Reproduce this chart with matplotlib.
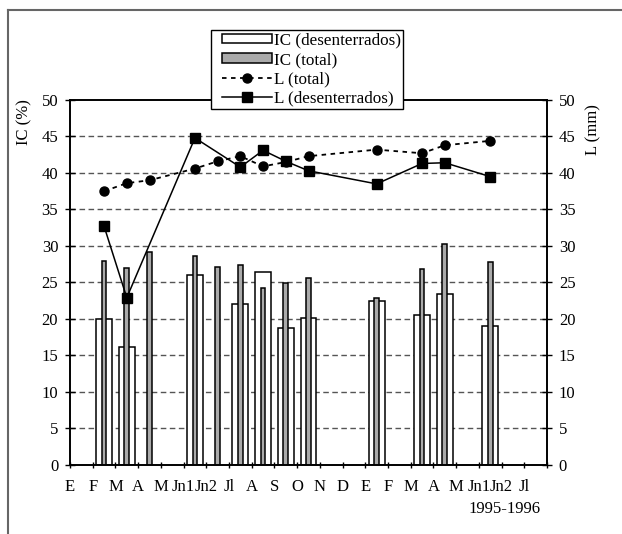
import numpy as np
import matplotlib
matplotlib.use("Agg")
import matplotlib.pyplot as plt
from matplotlib.patches import Patch
from matplotlib.lines import Line2D
from matplotlib.legend_handler import HandlerPatch, HandlerLine2D

plt.rcParams['font.family'] = ['Liberation Serif', 'DejaVu Serif']

# ---- data ----
month_labels = ['E', 'F', 'M', 'A', 'M', 'Jn1', 'Jn2', 'Jl', 'A', 'S', 'O', 'N', 'D',
                'E', 'F', 'M', 'A', 'M', 'Jn1', 'Jn2', 'Jl']
# sampling dates (in month-axis units)
sample_pos = [1.5, 2.5, 3.5, 5.5, 6.5, 7.5, 8.5, 9.5, 10.5, 13.5, 15.5, 16.5, 18.5]
ic_desenterrados = [20.0, 16.2, np.nan, 26.0, np.nan, 22.1, 26.4, 18.8, 20.1, 22.5, 20.6, 23.4, 19.0]
ic_total = [28.0, 27.0, 29.1, 28.6, 27.1, 27.4, 24.3, 24.9, 25.6, 22.8, 26.8, 30.2, 27.8]
l_total = [37.5, 38.6, 39.0, 40.6, 41.6, 42.3, 40.9, 41.5, 42.3, 43.2, 42.7, 43.8, 44.4]
l_desenterrados = [32.7, 22.9, np.nan, 44.8, np.nan, 40.8, 43.1, 41.6, 40.3, 38.5, 41.3, 41.4, 39.5]
year_label = '1995-1996'

FS = 12
W, H = 622, 534
fig = plt.figure(figsize=(W / 100, H / 100), dpi=100)
ax = fig.add_axes([70 / W, 1 - 464.8 / H, 477 / W, 364.8 / H])
ax2 = ax.twinx()

x = np.array(sample_pos)
ic_d = np.array(ic_desenterrados)
ic_t = np.array(ic_total)
lt = np.array(l_total)
ld = np.array(l_desenterrados)

# bars
mask = ~np.isnan(ic_d)
ax.bar(x[mask], ic_d[mask], width=0.70, color='white', edgecolor='black', linewidth=1.1, zorder=2)
ax.bar(x, ic_t, width=0.21, color='#aaaaaa', edgecolor='black', linewidth=1.1, zorder=3)

# lines
ax2.plot(x, lt, linestyle=(0, (2.5, 2.5)), color='black', lw=1.3, marker='o', ms=6.5, zorder=4)
m2 = ~np.isnan(ld)
ax2.plot(x[m2], ld[m2], linestyle='-', color='black', lw=1.1, marker='s', ms=6.5, zorder=5)

ax.set_xlim(0, 21)
ax.set_ylim(0, 50)
ax2.set_ylim(0, 50)
ax.set_yticks(np.arange(0, 51, 5))
ax2.set_yticks(np.arange(0, 51, 5))
ax.set_xticks(np.arange(0, 22, 1))
ax.set_xticklabels(month_labels + [''])

for y in range(5, 50, 5):
    ax.axhline(y, color='#555555', lw=1.0, linestyle=(0, (4, 2.5)), zorder=1)

for a in (ax, ax2):
    for s in a.spines.values():
        s.set_linewidth(1.2)
        s.set_color('black')
ax.tick_params(axis='y', direction='inout', length=7, width=1.0, pad=5, labelsize=FS)
ax2.tick_params(axis='y', direction='inout', length=7, width=1.0, pad=5, labelsize=FS)
ax.tick_params(axis='x', direction='inout', length=5, width=1.0, pad=8, labelsize=FS)

ax.set_ylabel('IC (%)', fontsize=FS)
ax.yaxis.set_label_coords(-0.078, 0.94)
ax2.set_ylabel('L (mm)', fontsize=FS, rotation=90)
ax2.yaxis.set_label_coords(1.08, 0.92)

fig.text(505 / W, 1 - 509 / H, year_label, ha='center', va='center', fontsize=FS)

# figure border (left & top)
fig.add_artist(Line2D([8 / W, 8 / W], [0, 1 - 10 / H], color='#666666', lw=1.5, transform=fig.transFigure))
fig.add_artist(Line2D([8 / W, 1], [1 - 10 / H, 1 - 10 / H], color='#666666', lw=1.5, transform=fig.transFigure))

OFF = 6.0  # points, left inset of handles inside their box


class ShiftPatch(HandlerPatch):
    def create_artists(self, legend, orig_handle, xdescent, ydescent, width, height, fontsize, trans):
        return super().create_artists(legend, orig_handle, xdescent - OFF, ydescent, width - OFF,
                                      height, fontsize, trans)


class ShiftLine(HandlerLine2D):
    def create_artists(self, legend, orig_handle, xdescent, ydescent, width, height, fontsize, trans):
        return super().create_artists(legend, orig_handle, xdescent - OFF, ydescent, width - OFF,
                                      height, fontsize, trans)


handles = [
    Patch(facecolor='white', edgecolor='black', linewidth=1.1),
    Patch(facecolor='#aaaaaa', edgecolor='black', linewidth=1.1),
    Line2D([], [], linestyle=(0, (2.5, 2.5)), color='black', lw=1.3, marker='o', ms=6.5),
    Line2D([], [], linestyle='-', color='black', lw=1.1, marker='s', ms=6.5),
]
labels = ['IC (desenterrados)', 'IC (total)', 'L (total)', 'L (desenterrados)']
LFS = 12.3
hl = (36.0 + OFF) / LFS  # handle length in fontsize units (36pt ~ 50px)
leg = fig.legend(handles, labels, loc='upper left', bbox_to_anchor=(210.7 / W, 1 - 30 / H),
                 borderaxespad=0, frameon=True, fancybox=False, shadow=False, framealpha=1,
                 edgecolor='black', fontsize=LFS, handlelength=hl, handleheight=0.47,
                 handletextpad=0.12, labelspacing=0.2, borderpad=0.15, numpoints=1,
                 handler_map={Patch: ShiftPatch(), Line2D: ShiftLine()})
leg.get_frame().set_linewidth(1.0)
leg.set_zorder(10)

fig.savefig('out.png', dpi=100)
